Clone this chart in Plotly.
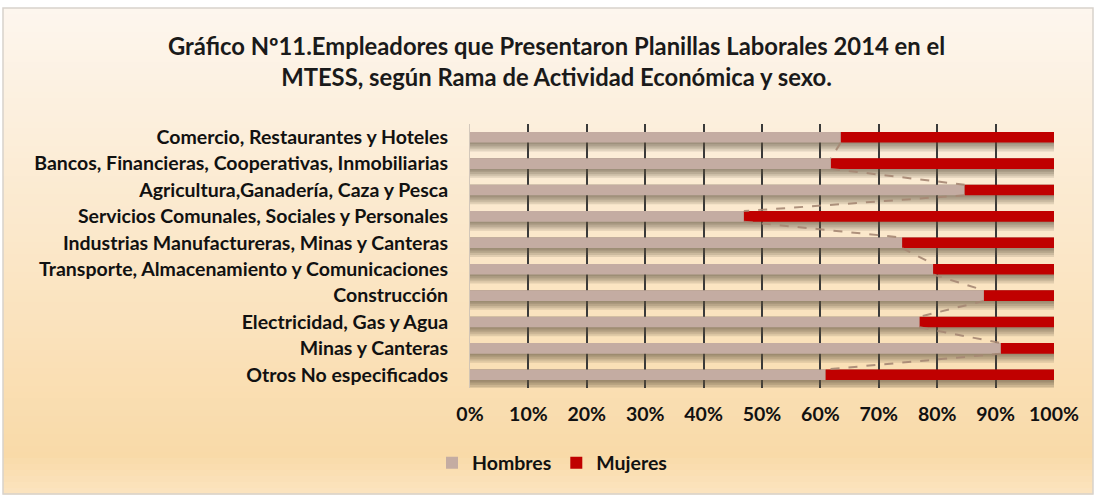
import plotly.graph_objects as go

categories = [
    "Comercio, Restaurantes y Hoteles",
    "Bancos, Financieras, Cooperativas, Inmobiliarias",
    "Agricultura,Ganadería, Caza y Pesca",
    "Servicios Comunales, Sociales y Personales",
    "Industrias Manufactureras, Minas y Canteras",
    "Transporte, Almacenamiento y Comunicaciones",
    "Construcción",
    "Electricidad, Gas y Agua",
    "Minas y Canteras",
    "Otros No especificados",
]
hombres = [63.5, 61.8, 84.7, 46.9, 74.0, 79.3, 88.0, 77.0, 90.9, 60.9]
mujeres = [36.5, 38.2, 15.3, 53.1, 26.0, 20.7, 12.0, 23.0, 9.1, 39.1]
x_ticks = [0, 10, 20, 30, 40, 50, 60, 70, 80, 90, 100]
x_ticktext = ["0%", "10%", "20%", "30%", "40%", "50%", "60%", "70%", "80%", "90%", "100%"]

W, H = 1095, 496
ML, MR, MT, MB = 470, 41, 124, 108
FONT = "Lato"
LBL = 19.5
BW = 0.40

pos = list(range(len(categories)))
totals = [h + m for h, m in zip(hombres, mujeres)]

fig = go.Figure()

# soft shadow under bars (layered)
for d in [0.34, 0.26, 0.19, 0.12, 0.06]:
    fig.add_trace(go.Bar(
        y=pos, x=totals, orientation="h", width=BW + d, offset=-BW / 2,
        marker=dict(color="rgba(95,80,65,0.16)", line=dict(width=0)),
        showlegend=False, hoverinfo="skip",
    ))

fig.add_trace(go.Bar(
    y=pos, x=hombres, orientation="h", name="Hombres", width=BW, offset=-BW / 2,
    marker=dict(color="#c4aca2", line=dict(width=0)),
))
fig.add_trace(go.Bar(
    y=pos, x=mujeres, base=hombres, orientation="h", name="Mujeres", width=BW, offset=-BW / 2,
    marker=dict(color="#c00000", line=dict(width=0)),
))

# series lines
sx, sy = [], []
for i in range(len(pos) - 1):
    sx += [hombres[i], hombres[i + 1], None]
    sy += [pos[i] + BW / 2, pos[i + 1] - BW / 2, None]
fig.add_trace(go.Scatter(
    x=sx, y=sy, mode="lines",
    line=dict(color="rgba(165,135,115,0.9)", width=2, dash="dash"),
    showlegend=False, hoverinfo="skip",
))

# background gradient via paper-referenced bands
pw = W - ML - MR
ph = H - MT - MB


def px2x(p):
    return (p - ML) / pw


def py2y(p):
    return (H - MB - p) / ph


def lerp(c1, c2, t):
    return tuple(round(a + (b - a) * t) for a, b in zip(c1, c2))


top_c = (253, 246, 238)
mid_c = (249, 218, 168)
bot_c = (251, 228, 192)
shapes = []
step = 6
y0p = 8
while y0p < 494:
    y1p = min(y0p + step, 494)
    yc = (y0p + y1p) / 2
    if yc < 455:
        c = lerp(top_c, mid_c, (yc - 8) / (455 - 8))
    else:
        c = lerp(mid_c, bot_c, (yc - 455) / (494 - 455))
    shapes.append(dict(
        type="rect", xref="paper", yref="paper", layer="below",
        x0=px2x(3), x1=px2x(1093), y0=py2y(y1p + 0.5), y1=py2y(y0p),
        fillcolor=f"rgb{c}", line=dict(width=0),
    ))
    y0p = y1p
shapes.append(dict(
    type="rect", xref="paper", yref="paper", layer="above",
    x0=px2x(3), x1=px2x(1093), y0=py2y(494), y1=py2y(8),
    fillcolor="rgba(0,0,0,0)", line=dict(color="#d8d2cc", width=1.5),
))

fig.add_annotation(
    text="Gráfico Nº11.Empleadores que Presentaron Planillas Laborales 2014 en el<br>MTESS, según Rama de Actividad Económica y sexo.",
    xref="paper", yref="paper", x=px2x(556), y=py2y(61),
    xanchor="center", yanchor="middle", showarrow=False, align="center",
    font=dict(family=FONT, size=23.8, color="#1a1a1a", weight="bold"),
)

fig.update_layout(
    width=W, height=H,
    margin=dict(l=ML, r=MR, t=MT, b=MB),
    paper_bgcolor="white",
    plot_bgcolor="rgba(0,0,0,0)",
    barmode="overlay",
    shapes=shapes,
    xaxis=dict(
        range=[0, 100], tickvals=x_ticks, ticktext=x_ticktext,
        showgrid=True, gridcolor="#3a3a3a", gridwidth=1.5,
        zeroline=False, showline=False, ticks="",
        ticklabelstandoff=12,
        tickfont=dict(family=FONT, size=LBL, color="#111111", weight="bold"),
        fixedrange=True,
    ),
    yaxis=dict(
        tickvals=pos, ticktext=categories,
        range=[len(pos) - 0.5, -0.5],
        showgrid=False, zeroline=False,
        showline=True, linecolor="rgba(200,190,180,0.8)", linewidth=1,
        ticks="", ticklabelstandoff=17,
        tickfont=dict(family=FONT, size=LBL, color="#111111", weight="bold"),
        fixedrange=True,
    ),
    legend=dict(
        orientation="h", x=552 / W, xref="container", xanchor="center",
        y=1 - 463 / H, yref="container", yanchor="middle",
        bgcolor="rgba(0,0,0,0)",
        font=dict(family=FONT, size=LBL, color="#111111", weight="bold"),
        traceorder="normal",
    ),
    showlegend=True,
)

fig.write_html(
    "out.html",
    config={"displayModeBar": False},
    post_script="document.body.style.margin='0';",
)
